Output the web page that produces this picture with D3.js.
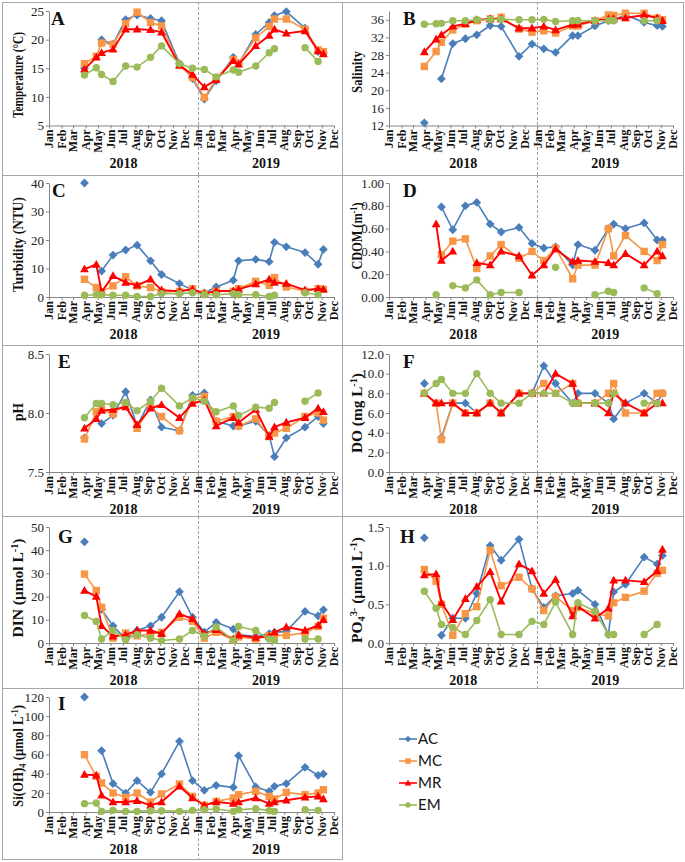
<!DOCTYPE html>
<html><head><meta charset="utf-8">
<script src="https://cdn.jsdelivr.net/npm/d3@7/dist/d3.min.js"></script>
<style>body{margin:0;background:#fff}svg{display:block}</style>
</head><body>
<svg id="c" width="685" height="862"></svg>
<script>
// ---------------- DATA ----------------
const sampleDates = ["2018-03-29","2018-04-27","2018-05-10","2018-06-07","2018-07-08","2018-08-05","2018-09-07","2018-10-04","2018-11-17","2018-12-19","2019-01-17","2019-02-15","2019-03-29","2019-04-11","2019-05-23","2019-06-25","2019-07-08","2019-08-06","2019-09-21","2019-10-23","2019-11-05"];
const monthLabels = ["Jan","Feb","Mar","Apr","May","Jun","Jul","Aug","Sep","Oct","Nov","Dec","Jan","Feb","Mar","Apr","May","Jun","Jul","Aug","Sep","Oct","Nov","Dec"];
const yearLabels = ["2018","2019"];
const seriesNames = ["AC","MC","MR","EM"];

const tempAC = [15.0,null,20.0,19.2,23.5,24.3,23.7,23.3,15.8,13.2,9.6,12.8,16.9,15.8,20.9,23.0,24.2,24.9,22.0,17.9,17.7];
const tempMC = [15.8,17.1,19.4,19.2,22.8,24.8,23.0,22.4,15.5,13.4,9.9,13.1,16.5,15.9,20.3,22.3,23.6,23.6,21.8,18.2,17.9];
const tempMR = [14.8,16.9,17.7,18.3,21.8,21.8,21.7,21.3,15.5,13.9,11.7,13.0,16.3,15.7,18.9,20.7,21.8,21.1,21.5,18.0,17.5];
const tempEM = [13.8,15.1,13.9,12.7,15.4,15.2,16.9,18.9,15.8,15.0,14.8,13.5,14.7,14.3,15.4,17.7,18.4,null,18.6,16.2,null];

const salAC = [12.6,null,22.6,30.6,31.7,32.6,34.7,34.5,27.7,30.5,29.4,28.6,32.4,32.4,34.6,35.8,36.0,37.1,35.4,34.7,34.5];
const salMC = [25.4,28.8,30.9,33.7,35.0,35.8,36.2,36.6,33.9,33.2,33.5,33.0,34.6,34.6,35.8,37.1,37.0,37.5,37.5,36.4,36.0];
const salMR = [28.7,31.6,32.6,34.5,35.1,36.0,36.2,36.2,34.1,34.1,34.5,33.7,34.9,35.0,35.8,36.2,36.2,36.4,37.1,36.4,35.8];
const salEM = [35.0,35.1,35.2,35.8,35.8,36.0,36.1,36.1,36.0,36.0,36.1,35.6,35.8,35.8,35.8,35.8,35.8,null,35.8,35.8,null];

const turbAC = [40.0,null,9.1,14.7,16.5,18.2,12.7,7.9,4.7,2.5,1.4,3.5,5.9,12.7,13.2,12.4,19.2,17.6,15.6,11.5,16.7];
const turbMC = [6.2,3.3,1.8,3.9,7.1,3.9,3.3,1.8,2.0,2.9,1.2,2.0,2.0,2.9,5.5,4.1,6.8,3.5,2.0,2.9,2.7];
const turbMR = [9.8,11.4,1.8,7.4,5.1,4.1,6.2,2.4,2.0,2.7,1.2,2.1,2.1,2.7,4.5,6.2,5.1,4.7,2.4,2.9,2.7];
const turbEM = [0.6,0.8,0.8,0.6,0.6,0.2,0.2,1.2,1.2,1.5,0.8,0.8,1.2,0.8,0.8,0.2,0.6,null,1.5,0.8,null];

const cdomAC = [null,null,0.79,0.59,0.80,0.83,0.64,0.57,0.61,0.47,0.43,0.44,0.28,0.46,0.41,0.60,0.64,0.60,0.65,0.50,0.50];
const cdomMC = [null,null,0.37,0.49,0.51,0.25,0.36,0.46,0.34,0.40,0.32,0.43,0.16,0.28,0.28,0.60,0.36,0.54,0.40,0.32,0.46];
const cdomMR = [null,0.64,0.32,0.40,null,0.30,0.28,0.40,0.36,0.19,0.28,0.42,0.31,0.32,0.31,0.30,0.28,0.38,0.28,0.40,0.36];
const cdomEM = [null,0.02,null,0.10,0.08,0.15,0.02,0.04,0.04,null,null,0.26,null,null,0.02,0.05,0.04,null,0.08,0.03,null];

const phAC = [7.79,null,7.91,7.98,8.18,7.89,8.11,7.88,7.85,8.15,8.17,7.93,7.89,7.89,7.93,7.81,7.63,7.79,7.88,7.97,7.91];
const phMC = [7.78,8.01,8.03,7.99,8.08,7.87,8.05,7.97,7.85,8.12,8.14,7.93,7.97,7.89,7.95,7.80,7.83,7.87,7.97,8.00,7.94];
const phMR = [7.87,7.95,8.02,8.03,8.05,7.90,8.04,8.07,7.96,8.08,8.11,7.89,7.96,7.92,8.03,7.80,7.88,7.92,7.96,8.04,8.01];
const phEM = [7.96,8.08,8.08,8.07,8.09,8.02,8.10,8.21,8.06,8.13,8.10,8.01,8.06,7.98,8.05,8.04,8.09,null,8.10,8.17,null];

const doAC = [9.0,null,3.5,7.0,7.0,6.0,7.0,6.0,8.0,8.0,10.8,9.0,7.0,8.0,8.0,7.0,5.4,7.0,8.0,7.0,8.0];
const doMC = [8.0,7.0,3.3,7.0,6.0,6.0,7.0,6.0,8.0,8.0,9.0,8.0,9.0,7.0,7.0,8.0,9.0,6.0,6.0,8.0,8.0];
const doMR = [8.0,7.0,7.0,7.0,6.0,6.0,7.0,6.0,8.0,8.0,8.0,10.0,9.0,7.0,7.0,6.0,8.0,7.0,6.0,7.0,7.0];
const doEM = [8.0,9.0,9.4,8.0,8.0,10.0,8.0,7.0,7.0,8.0,8.0,8.0,7.0,7.0,7.0,7.0,8.0,null,7.0,7.0,null];

const dinAC = [43.6,null,14.5,7.4,1.7,5.4,7.4,11.1,22.1,11.1,4.7,8.9,6.0,3.5,2.9,4.0,4.6,5.0,13.6,11.7,14.3];
const dinMC = [29.7,22.6,15.4,2.1,4.3,3.1,3.9,4.6,11.1,9.3,2.1,4.6,1.4,2.6,1.7,3.1,3.3,3.3,4.3,7.1,10.7];
const dinMR = [22.6,20.0,7.4,2.9,3.5,5.4,5.4,4.0,12.6,10.4,4.0,5.7,1.7,3.3,2.4,2.9,4.6,6.9,5.4,7.6,10.0];
const dinEM = [11.9,9.3,1.7,5.4,1.4,3.6,2.1,1.1,1.7,5.4,2.9,6.9,1.1,7.1,5.4,1.7,1.1,null,1.7,1.7,null];

const po4AC = [1.36,null,0.10,0.32,0.32,0.64,1.26,1.07,1.34,0.70,0.46,0.61,0.64,0.68,0.50,0.11,0.66,0.76,1.11,1.02,1.13];
const po4MC = [0.95,0.80,0.50,0.10,0.38,0.47,1.20,0.74,0.85,0.70,0.42,0.60,0.42,0.46,0.38,0.35,0.52,0.59,0.67,0.90,0.94];
const po4MR = [0.88,0.89,0.52,0.30,0.57,0.73,0.92,0.54,1.02,0.93,0.64,0.82,0.35,0.47,0.32,0.45,0.81,0.81,0.79,0.93,1.21];
const po4EM = [0.67,0.45,0.24,0.20,0.11,0.29,0.56,0.11,0.11,0.28,0.24,0.53,0.11,0.52,0.41,0.11,0.11,null,0.11,0.24,null];

const siAC = [120,null,64,29.6,19.8,32.7,20.5,39.7,73.7,32.7,22.6,27.8,25.7,58.8,26.1,21.6,26.8,29.6,46.6,38.3,39.7];
const siMC = [59.8,37.2,30.3,19.8,15.3,19.8,10.4,18.8,29.2,16.3,7.0,11.1,14.6,18.1,21.6,16.3,13.6,20.5,18.1,19.8,23.3];
const siMR = [39.0,38.3,17.4,10.4,10.4,11.8,7.0,10.4,26.8,14.6,7.0,10.4,8.7,10.4,14.6,8.7,10.4,12.2,15.3,16.3,13.6];
const siEM = [8.7,9.4,0.7,1.7,0.7,0.7,1.4,1.4,0.7,1.7,2.4,3.1,0.7,2.4,3.5,1.4,0.7,null,2.4,1.7,null];

const ticksA = [5,10,15,20,25];
const ticksB = [12,16,20,24,28,32,36];
const ticksC = [0,10,20,30,40];
const ticksD = [0,0.2,0.4,0.6,0.8,1.0];
const ticksE = [7.5,8.0,8.5];
const ticksF = [0,2,4,6,8,10,12];
const ticksG = [0,10,20,30,40,50];
const ticksH = [0,0.5,1.0,1.5];
const ticksI = [0,20,40,60,80,100,120];

// ---------------- LAYOUT / STYLE ----------------
const serif = "'Liberation Serif', 'Times New Roman', serif";
const axisGray = "#868686";
const borderGray = "#a6a6a6";
const seriesColors = ["#4a7ebb","#f79646","#ff0000","#9bbb59"];
const seriesShapes = ["diamond","square","triangle","circle"];
const seriesWidths = [1.6,1.6,1.9,1.6];

const colLayout = [
  {x0:2, x1:342, plotL:49, plotR:334, titleX:22.5},
  {x0:342, x1:683, plotL:389, plotR:673, titleX:361.5}
];
const rowLayout = [
  {top:2, plotTop:11, plotBot:125.5},
  {top:175, plotTop:183, plotBot:297},
  {top:345, plotTop:354, plotBot:472},
  {top:516, plotTop:527, plotBot:643},
  {top:688, plotTop:697, plotBot:812}
];
const figBottom = 859;

const panels = [
  {letter:"A", col:0,row:0, data:[tempAC,tempMC,tempMR,tempEM], domain:[5,25], ticks:ticksA, fmt:d3.format("d"),
   title:[["Temperature (°C)",0]], titleLen:86, titleY:75, lx:51, ly:25},
  {letter:"B", col:1,row:0, data:[salAC,salMC,salMR,salEM], domain:[12,38], ticks:ticksB, fmt:d3.format("d"),
   title:[["Salinity",0]], titleLen:42, titleY:72, lx:403, ly:25},
  {letter:"C", col:0,row:1, data:[turbAC,turbMC,turbMR,turbEM], domain:[0,40], ticks:ticksC, fmt:d3.format("d"),
   title:[["Turbidity (NTU)",0]], titleLen:95, titleY:244.5, lx:52, ly:197},
  {letter:"D", col:1,row:1, data:[cdomAC,cdomMC,cdomMR,cdomEM], domain:[0,1], ticks:ticksD, fmt:d3.format(".2f"),
   title:[["CDOM (m",0],["-1",-5],[")",0]], titleLen:67, titleY:236, lx:403, ly:197},
  {letter:"E", col:0,row:2, data:[phAC,phMC,phMR,phEM], domain:[7.5,8.5], ticks:ticksE, fmt:d3.format(".1f"),
   title:[["pH",0]], titleLen:18, titleY:412, lx:58, ly:368},
  {letter:"F", col:1,row:2, data:[doAC,doMC,doMR,doEM], domain:[0,12], ticks:ticksF, fmt:d3.format(".1f"),
   title:[["DO (mg L",0],["-1",-5],[")",0]], titleLen:80, titleY:413, lx:403, ly:368},
  {letter:"G", col:0,row:3, data:[dinAC,dinMC,dinMR,dinEM], domain:[0,50], ticks:ticksG, fmt:d3.format("d"),
   title:[["DIN (μmol L",0],["-1",-5],[")",0]], titleLen:99, titleY:588, lx:58, ly:543},
  {letter:"H", col:1,row:3, data:[po4AC,po4MC,po4MR,po4EM], domain:[0,1.5], ticks:ticksH, fmt:d3.format(".1f"),
   title:[["PO",0],["4",3],["3-",-5],[" (μmol L",0],["-1",-5],[")",0]], titleLen:106, titleY:590, lx:400, ly:543},
  {letter:"I", col:0,row:4, data:[siAC,siMC,siMR,siEM], domain:[0,120], ticks:ticksI, fmt:d3.format("d"),
   title:[["Si(OH)",0],["4",3],[" (μmol L",0],["-1",-5],[")",0]], titleLen:102, titleY:756, lx:58, ly:710}
];

// ---------------- DRAW ----------------
const svg = d3.select("#c");
const parse = d3.utcParse("%Y-%m-%d");
const dates = sampleDates.map(parse);
const axisStart = new Date(Date.UTC(2018,0,1));
const axisEnd = new Date(Date.UTC(2019,11,1));
const yearSplit = new Date(Date.UTC(2019,0,1));
const monthTicks = d3.utcMonth.range(axisStart, new Date(Date.UTC(2019,11,2)));

function drawMarker(g, shape, color, cx, cy, k) {
  k = k || 1;
  if (shape === "circle") {
    g.append("circle").attr("cx",cx).attr("cy",cy).attr("r",3.7*k).attr("fill",color);
    return;
  }
  let d;
  if (shape === "diamond") d = `M0,${-4.4*k}L${4.4*k},0L0,${4.4*k}L${-4.4*k},0Z`;
  else if (shape === "square") d = `M${-3.7*k},${-3.7*k}h${7.4*k}v${7.4*k}h${-7.4*k}Z`;
  else d = `M0,${-4.6*k}L${4.4*k},${3.2*k}L${-4.4*k},${3.2*k}Z`;
  g.append("path").attr("d",d).attr("transform",`translate(${cx},${cy})`).attr("fill",color);
}

panels.forEach(p => {
  const C = colLayout[p.col], R = rowLayout[p.row];
  const bottom = p.row < rowLayout.length-1 ? rowLayout[p.row+1].top : figBottom;
  const g = svg.append("g");

  // frame
  g.append("rect").attr("x",C.x0+0.5).attr("y",R.top+0.5).attr("width",C.x1-C.x0).attr("height",bottom-R.top)
    .attr("fill","none").attr("stroke",borderGray).attr("stroke-width",1);

  const x = d3.scaleUtc().domain([axisStart, axisEnd]).range([C.plotL, C.plotR]);
  const y = d3.scaleLinear().domain(p.domain).range([R.plotBot, R.plotTop]);

  // dashed year separator
  g.append("line").attr("x1",Math.round(x(yearSplit))+0.5).attr("x2",Math.round(x(yearSplit))+0.5)
    .attr("y1",R.top).attr("y2",bottom)
    .attr("stroke","#a0a0a0").attr("stroke-width",1).attr("stroke-dasharray","3,2");

  // y axis
  const ya = g.append("g").attr("transform",`translate(${C.plotL},0)`)
    .call(d3.axisLeft(y).tickValues(p.ticks).tickFormat(p.fmt).tickSize(3).tickSizeOuter(0).tickPadding(2));
  ya.attr("font-family",null).attr("font-size",null);
  ya.selectAll("path,line").attr("stroke",axisGray);
  ya.selectAll("text").attr("fill","#222").style("font-family",serif).style("font-size","13px");

  // x axis
  const xa = g.append("g").attr("transform",`translate(0,${R.plotBot})`)
    .call(d3.axisBottom(x).tickValues(monthTicks).tickFormat("").tickSize(3).tickSizeOuter(0));
  xa.selectAll("path,line").attr("stroke",axisGray);

  // month labels
  g.append("g").selectAll("text").data(monthTicks).join("text")
    .attr("transform",d => `translate(${x(d)},${R.plotBot+4}) rotate(-90)`)
    .attr("text-anchor","end").attr("dy","0.35em")
    .style("font-family",serif).style("font-weight","bold").style("font-size","12px").attr("fill","#111")
    .text((d,i) => monthLabels[i]);

  // year labels
  const yearCenters = [(x(axisStart)+x(yearSplit))/2, (x(yearSplit)+x(axisEnd))/2];
  g.append("g").selectAll("text").data(yearLabels).join("text")
    .attr("x",(d,i)=>yearCenters[i]).attr("y",R.plotBot+42)
    .attr("text-anchor","middle").style("font-family",serif).style("font-weight","bold").style("font-size","14px").attr("fill","#111")
    .text(d=>d);

  // y title
  const t = g.append("text").attr("text-anchor","middle").style("font-family",serif)
    .style("font-weight","bold").style("font-size","15px").attr("fill","#111");
  let prev = 0;
  p.title.forEach(([s,off]) => {
    const ts = t.append("tspan").attr("dy",off-prev).text(s);
    if (off !== 0) ts.style("font-size","10px");
    prev = off;
  });
  const natural = t.node().getComputedTextLength();
  const sc = natural > 0 ? p.titleLen / natural : 1;
  t.attr("transform",`translate(${C.titleX},${p.titleY}) rotate(-90) scale(${sc},1)`);

  // panel letter
  g.append("text").attr("x",p.lx).attr("y",p.ly).style("font-family",serif).style("font-weight","bold")
    .style("font-size","19px").attr("fill","#111").text(p.letter);

  // series
  p.data.forEach((vals, si) => {
    const line = d3.line().defined((d,i)=>vals[i]!=null).x((d,i)=>x(dates[i])).y((d,i)=>y(vals[i]));
    g.append("path").attr("d",line(vals)).attr("fill","none")
      .attr("stroke",seriesColors[si]).attr("stroke-width",seriesWidths[si]).attr("stroke-linejoin","round");
    const mg = g.append("g");
    vals.forEach((v,i) => { if (v!=null) drawMarker(mg, seriesShapes[si], seriesColors[si], x(dates[i]), y(v)); });
  });
});

// legend
const legX = 399, legY0 = 739, legStep = 22;
const lg = svg.append("g");
seriesNames.forEach((name, i) => {
  const cy = legY0 + i*legStep;
  lg.append("line").attr("x1",legX).attr("x2",legX+18).attr("y1",cy).attr("y2",cy)
    .attr("stroke",seriesColors[i]).attr("stroke-width",1.6);
  drawMarker(lg, seriesShapes[i], seriesColors[i], legX+9, cy, 0.75);
  lg.append("text").attr("x",legX+19).attr("y",cy).attr("dy","0.36em")
    .style("font-family","Lato, 'Liberation Sans', sans-serif").style("font-size","15px").attr("fill","#111").text(name);
});
</script>
</body></html>
